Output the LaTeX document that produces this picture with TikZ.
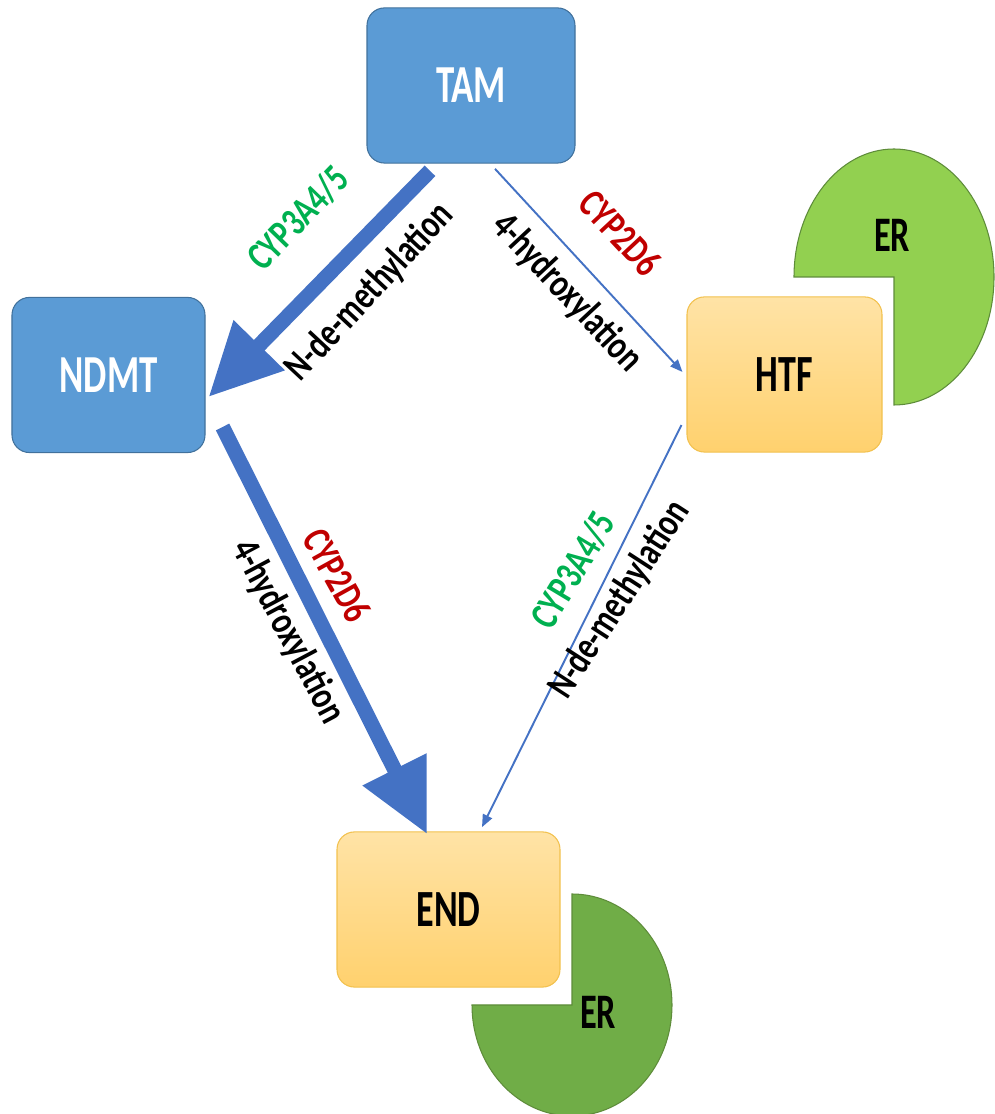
\documentclass[tikz,border=0pt]{standalone}
\usepackage{fontspec}
\setmainfont{Carlito}
\usepackage{tikz}
\usetikzlibrary{arrows.meta,positioning}

\definecolor{tamblue}{HTML}{5B9BD5}
\definecolor{tamedge}{HTML}{41719C}
\definecolor{hitop}{HTML}{FFE3A6}
\definecolor{hibot}{HTML}{FFD16E}
\definecolor{hiedge}{HTML}{F2C14E}
\definecolor{erlight}{HTML}{92D050}
\definecolor{erdark}{HTML}{70AD47}
\definecolor{eredge}{HTML}{5E8C3A}
\definecolor{arrblue}{HTML}{4472C4}
\definecolor{cypgreen}{HTML}{00B050}
\definecolor{cypred}{HTML}{C00000}

\begin{document}
\begin{tikzpicture}[x=1cm,y=1cm,
    molbox/.style={rounded corners=0.35cm, yscale=1.45, minimum height=2.14cm,
        font=\fontsize{19.5}{19.5}\selectfont\bfseries, inner sep=0pt},
    parent/.style={molbox, fill=tamblue, draw=tamedge, line width=0.6pt, text=white,
        font=\fontsize{21}{21}\selectfont\bfseries},
    active/.style={molbox, top color=hitop, bottom color=hibot, draw=hiedge, line width=0.6pt,
        font=\fontsize{20.5}{20.5}\selectfont\bfseries},
    major/.style={arrblue, line width=0.3cm, -{Triangle[length=1.45cm,width=1.35cm]}},
    minor/.style={arrblue, line width=1.1pt, -{Triangle[length=0.25cm,width=0.2cm]}},
    enzyme/.style={font=\fontsize{17.5}{17.5}\selectfont\bfseries, yscale=1.3, inner sep=0pt},
    receptor/.style={fill=#1, draw=eredge, line width=0.6pt}]
    \useasboundingbox (0,0) rectangle (19.88,22.28);

    % estrogen receptors
    \filldraw[receptor=erlight] (17.88,16.74) -- ++(-2.0,0)
        arc[start angle=180, end angle=-90, x radius=2.0, y radius=2.56] -- cycle;
    \node[molbox] (erhtf) at (17.84,17.58) {ER};
    \filldraw[receptor=erdark] (11.44,2.18) -- ++(0,2.22)
        arc[start angle=90, end angle=-180, x radius=2.0, y radius=2.22] -- cycle;
    \node[molbox] (erend) at (11.96,2.04) {ER};

    % metabolites
    \node[parent, minimum width=4.16cm] (tam) at (9.42,20.57) {TAM};
    \node[parent, minimum width=3.86cm] (ndmt) at (2.17,14.78) {NDMT};
    \node[active, minimum width=3.90cm] (htf) at (15.69,14.79) {HTF};
    \node[active, minimum width=4.46cm] (endo) at (8.97,4.09) {END};

    % pathways
    \draw[major] ([xshift=-0.82cm,yshift=-0.14cm]tam.south)
        -- ([xshift=0.06cm,yshift=-0.44cm]ndmt.east);
    \draw[minor] ([xshift=0.48cm,yshift=-0.10cm]tam.south)
        -- ([xshift=-0.08cm,yshift=0.05cm]htf.west);
    \draw[major] ([xshift=0.34cm,yshift=-1.04cm]ndmt.east)
        -- ([xshift=-0.43cm,yshift=-0.06cm]endo.north);
    \draw[minor] ([xshift=-0.10cm,yshift=-1.01cm]htf.west)
        -- ([xshift=0.67cm,yshift=0.08cm]endo.north);

    \node[rotate=46, enzyme, text=cypgreen] (cyp3a) at (5.96,17.92) {CYP3A4/5};
    \node[rotate=47, enzyme] (ndm) at (7.40,16.44) {N-de-methylation};
    \node[rotate=-47, enzyme, text=cypred] (cyp2d) at (12.40,17.62) {CYP2D6};
    \node[rotate=-47, enzyme] (hyd) at (11.34,16.42) {4-hydroxylation};
    \node[rotate=-61, enzyme, text=cypred] (cyp2dlow) at (6.74,10.78) {CYP2D6};
    \node[rotate=-62, enzyme] (hydlow) at (5.76,9.64) {4-hydroxylation};
    \node[rotate=59, enzyme, text=cypgreen] (cyp3alow) at (11.46,10.88) {CYP3A4/5};
    \node[rotate=57, enzyme] (ndmlow) at (12.40,10.28) {N-de-methylation};
\end{tikzpicture}
\end{document}
